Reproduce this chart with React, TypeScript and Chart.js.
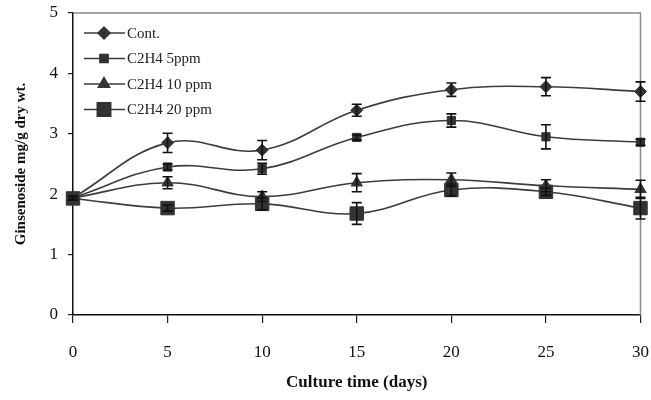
import React, { useEffect, useRef } from "react";
import { Chart, registerables } from "chart.js";
import { drawPoint } from "chart.js/helpers";

Chart.register(...registerables);

// ---- data ----
const days = [0, 5, 10, 15, 20, 25, 30];
const seriesLabels = ["Cont.", "C2H4 5ppm", "C2H4 10 ppm", "C2H4 20 ppm"];
const contValues = [1.94, 2.85, 2.73, 3.39, 3.73, 3.78, 3.7];
const ppm5Values = [1.94, 2.45, 2.42, 2.94, 3.22, 2.95, 2.86];
const ppm10Values = [1.94, 2.19, 1.96, 2.19, 2.24, 2.14, 2.08];
const ppm20Values = [1.93, 1.77, 1.84, 1.68, 2.07, 2.04, 1.77];
const contErr = [0.03, 0.16, 0.16, 0.1, 0.11, 0.15, 0.16];
const ppm5Err = [0.03, 0.05, 0.09, 0.04, 0.11, 0.2, 0.05];
const ppm10Err = [0.03, 0.1, 0.08, 0.15, 0.11, 0.1, 0.15];
const ppm20Err = [0.03, 0.05, 0.1, 0.18, 0.1, 0.06, 0.18];
const yTicks = [0, 1, 2, 3, 4, 5];
const xTicks = [0, 5, 10, 15, 20, 25, 30];
const xTitle = "Culture time (days)";
const yTitle = "Ginsenoside mg/g dry wt.";

const seriesValues = [contValues, ppm5Values, ppm10Values, ppm20Values];
const seriesErrors = [contErr, ppm5Err, ppm10Err, ppm20Err];
const pointStyles = ["rectRot", "rect", "triangle", "rect"];
const pointRadii = [6, 5.8, 6.5, 9.5];

const SERIF = "'Liberation Serif', 'Times New Roman', serif";
const LINE_COLOR = "#3c3c3c";
const MARK_COLOR = "#333333";

const errorBarPlugin = {
  id: "errorBars",
  afterDatasetsDraw(chart: any) {
    const { ctx, scales } = chart;
    const xs = scales.x;
    const ys = scales.y;
    ctx.save();
    ctx.strokeStyle = "#111";
    ctx.lineWidth = 1.6;
    seriesErrors.forEach((errs, si) => {
      days.forEach((d, i) => {
        const v = seriesValues[si][i];
        const e = errs[i];
        const px = xs.getPixelForValue(d);
        const top = ys.getPixelForValue(v + e);
        const bot = ys.getPixelForValue(v - e);
        ctx.beginPath();
        ctx.moveTo(px, top);
        ctx.lineTo(px, bot);
        ctx.moveTo(px - 5, top);
        ctx.lineTo(px + 5, top);
        ctx.moveTo(px - 5, bot);
        ctx.lineTo(px + 5, bot);
        ctx.stroke();
      });
    });
    ctx.restore();
  },
};

const framePlugin = {
  id: "frame",
  beforeDatasetsDraw(chart: any) {
    const { ctx, chartArea } = chart;
    ctx.save();
    ctx.strokeStyle = "#8a8a8a";
    ctx.lineWidth = 1.5;
    ctx.beginPath();
    ctx.moveTo(chartArea.left, chartArea.top);
    ctx.lineTo(chartArea.right, chartArea.top);
    ctx.lineTo(chartArea.right, chartArea.bottom);
    ctx.stroke();
    ctx.restore();
  },
};

const legendPlugin = {
  id: "customLegend",
  afterDraw(chart: any) {
    const { ctx, chartArea } = chart;
    ctx.save();
    const x0 = chartArea.left + 11;
    const y0 = chartArea.top + 20;
    seriesLabels.forEach((label, i) => {
      const y = y0 + i * 25.5;
      ctx.strokeStyle = LINE_COLOR;
      ctx.lineWidth = 1.5;
      ctx.beginPath();
      ctx.moveTo(x0, y);
      ctx.lineTo(x0 + 41, y);
      ctx.stroke();
      ctx.fillStyle = MARK_COLOR;
      ctx.strokeStyle = MARK_COLOR;
      drawPoint(
        ctx,
        { pointStyle: pointStyles[i], radius: pointRadii[i], rotation: 0, borderWidth: 1 },
        x0 + 20,
        y
      );
      ctx.fillStyle = "#222";
      ctx.font = `15px ${SERIF}`;
      ctx.textBaseline = "middle";
      ctx.textAlign = "left";
      ctx.fillText(label, x0 + 43, y + 1);
    });
    ctx.restore();
  },
};

export default function App() {
  const canvasRef = useRef<HTMLCanvasElement | null>(null);

  useEffect(() => {
    document.body.style.margin = "0";
    const canvas = canvasRef.current;
    if (!canvas) return;
    const datasets = seriesLabels.map((label, si) => ({
      label,
      data: days.map((d, i) => ({ x: d, y: seriesValues[si][i] })),
      borderColor: LINE_COLOR,
      borderWidth: 1.6,
      backgroundColor: MARK_COLOR,
      pointBackgroundColor: MARK_COLOR,
      pointBorderColor: MARK_COLOR,
      pointBorderWidth: 1,
      pointStyle: pointStyles[si],
      pointRadius: pointRadii[si],
      pointHoverRadius: pointRadii[si],
      tension: 0.4,
      fill: false,
      clip: 20,
    }));
    const chart = new Chart(canvas, {
      type: "line",
      data: { datasets },
      plugins: [framePlugin, errorBarPlugin, legendPlugin],
      options: {
        animation: false,
        responsive: false,
        events: [],
        layout: { padding: { top: 13, right: 8, left: 0, bottom: 0 } },
        plugins: {
          legend: { display: false },
          tooltip: { enabled: false },
        },
        scales: {
          x: {
            type: "linear",
            min: 0,
            max: 30,
            afterBuildTicks: (s: any) => {
              s.ticks = xTicks.map((v) => ({ value: v }));
            },
            afterFit: (s: any) => {
              s.height = 85;
              s.paddingLeft = 0;
              s.paddingRight = 0;
            },
            ticks: {
              font: { family: SERIF, size: 17 },
              color: "#111",
              padding: 19,
              maxRotation: 0,
            },
            grid: {
              drawOnChartArea: false,
              drawTicks: true,
              tickLength: 8,
              color: "#222",
              lineWidth: 1.2,
            },
            border: { color: "#111", width: 1.5 },
            title: {
              display: true,
              text: xTitle,
              font: { family: SERIF, size: 17, weight: "bold" },
              color: "#111",
              padding: { top: 0, bottom: 7 },
            },
          },
          y: {
            min: 0,
            max: 5,
            afterBuildTicks: (s: any) => {
              s.ticks = yTicks.map((v) => ({ value: v }));
            },
            afterFit: (s: any) => {
              s.width = 73;
              s.paddingTop = 0;
              s.paddingBottom = 0;
            },
            ticks: {
              font: { family: SERIF, size: 17 },
              color: "#111",
              padding: 10,
            },
            grid: {
              drawOnChartArea: false,
              drawTicks: true,
              tickLength: 5,
              color: "#222",
              lineWidth: 1.2,
            },
            border: { color: "#111", width: 1.5 },
            title: {
              display: true,
              text: yTitle,
              font: { family: SERIF, size: 15, weight: "bold" },
              color: "#111",
              padding: { top: 12, bottom: 0 },
            },
          },
        },
      } as any,
    });
    return () => chart.destroy();
  }, []);

  return (
    <div style={{ width: 651, height: 400 }}>
      <canvas ref={canvasRef} width={651} height={400} />
    </div>
  );
}
